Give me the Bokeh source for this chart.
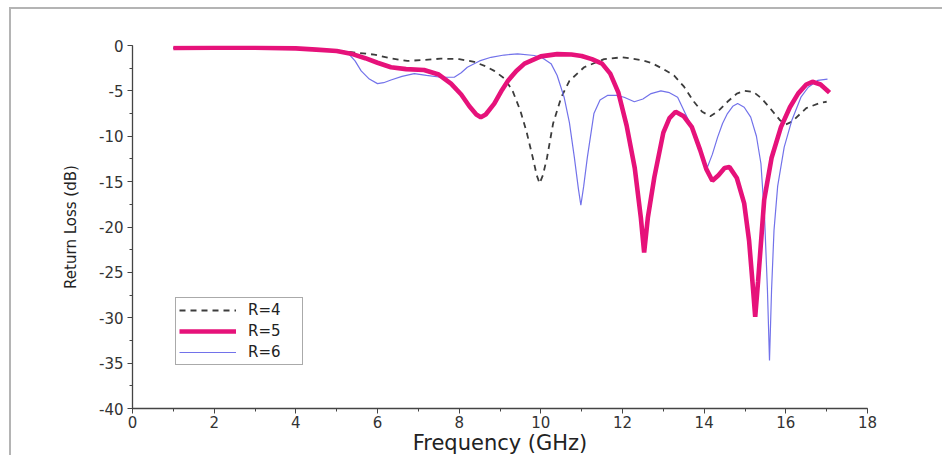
from bokeh.plotting import figure
from bokeh.models import Range1d, Legend, LegendItem, FixedTicker
from bokeh.embed import file_html
from bokeh.resources import INLINE

# Return loss versus frequency for three values of R
freq_r4 = [1.0, 2.0, 3.0, 4.0, 4.5, 5.0, 5.5, 5.92, 6.3, 6.73, 7.1, 7.55, 8.0, 8.37, 8.65,
           8.86, 9.1, 9.3, 9.5, 9.65, 9.8, 9.9, 9.97, 10.05, 10.15, 10.3, 10.5, 10.7,
           11.06, 11.55, 12.0, 12.45, 12.7, 13.0, 13.26, 13.5, 13.75, 13.95, 14.15,
           14.35, 14.57, 14.8, 14.98, 15.2, 15.4, 15.63, 15.85, 16.0, 16.15, 16.5,
           16.85, 17.0]
rl_r4 = [-0.28, -0.25, -0.25, -0.32, -0.4, -0.55, -0.8, -1.0, -1.4, -1.7, -1.6, -1.45,
         -1.5, -1.8, -2.3, -2.8, -3.6, -4.9, -7.2, -9.5, -12.3, -14.3, -15.2, -14.3,
         -12.4, -8.6, -5.7, -3.9, -2.4, -1.5, -1.3, -1.6, -1.9, -2.6, -3.3, -4.5, -6.2,
         -7.3, -7.8, -7.2, -6.2, -5.3, -5.0, -5.1, -5.8, -7.0, -8.2, -8.7, -8.4, -6.9,
         -6.3, -6.2]

freq_r5 = [1.0, 2.0, 3.0, 4.0, 4.5, 5.0, 5.35, 5.7, 6.0, 6.33, 6.7, 7.14, 7.5, 7.8, 8.05,
           8.25, 8.42, 8.53, 8.65, 8.86, 9.05, 9.2, 9.4, 9.6, 10.0, 10.4, 10.75, 11.0,
           11.25, 11.5, 11.7, 11.9, 12.1, 12.3, 12.45, 12.53, 12.62, 12.78, 13.0, 13.15,
           13.3, 13.5, 13.7, 13.9, 14.05, 14.2, 14.35, 14.5, 14.62, 14.8, 14.98, 15.1,
           15.2, 15.25, 15.32, 15.47, 15.65, 15.88, 16.1, 16.3, 16.5, 16.65, 16.85,
           17.0, 17.07]
rl_r5 = [-0.28, -0.25, -0.25, -0.32, -0.45, -0.6, -0.9, -1.4, -1.9, -2.4, -2.6, -2.7,
         -3.2, -4.2, -5.4, -6.7, -7.6, -7.9, -7.6, -6.4, -4.9, -3.85, -2.8, -2.0, -1.2,
         -0.95, -1.0, -1.15, -1.5, -2.0, -3.1, -5.2, -8.8, -13.5, -19.0, -22.8, -19.0,
         -14.5, -9.6, -8.0, -7.3, -7.8, -9.0, -11.5, -13.6, -14.9, -14.3, -13.5, -13.4,
         -14.6, -17.4, -21.5, -27.0, -29.9, -26.0, -17.0, -12.4, -9.0, -6.8, -5.3, -4.3,
         -4.0, -4.3, -4.9, -5.2]

freq_r6 = [1.0, 2.0, 3.0, 4.0, 4.5, 5.0, 5.27, 5.45, 5.6, 5.8, 6.0, 6.15, 6.33, 6.6, 6.9,
           7.2, 7.55, 7.88, 8.05, 8.2, 8.5, 8.78, 9.1, 9.43, 9.84, 10.05, 10.25, 10.4,
           10.57, 10.7, 10.82, 10.92, 10.98, 11.05, 11.14, 11.3, 11.45, 11.63, 11.85,
           12.04, 12.29, 12.5, 12.7, 12.94, 13.15, 13.35, 13.55, 13.7, 13.84, 13.95,
           14.08, 14.2, 14.33, 14.45, 14.57, 14.7, 14.82, 14.98, 15.14, 15.28, 15.39,
           15.48, 15.55, 15.6, 15.65, 15.71, 15.8, 15.96, 16.15, 16.37, 16.55, 16.78,
           17.02]
rl_r6 = [-0.28, -0.25, -0.25, -0.32, -0.4, -0.6, -0.8, -1.7, -2.8, -3.7, -4.2, -4.1,
         -3.8, -3.4, -3.1, -3.3, -3.5, -3.5, -3.0, -2.4, -1.7, -1.3, -1.05, -0.92, -1.1,
         -1.4, -2.0, -3.3, -5.7, -8.5, -12.3, -15.8, -17.6, -15.5, -12.3, -7.5, -6.0,
         -5.5, -5.5, -5.7, -6.2, -5.9, -5.3, -5.0, -5.2, -5.7, -7.6, -9.0, -10.5, -12.2,
         -13.4, -12.0, -10.1, -8.6, -7.5, -6.7, -6.4, -6.8, -7.9, -10.0, -13.0, -19.0,
         -27.0, -34.7, -27.0, -20.4, -15.5, -11.2, -8.2, -5.7, -4.6, -3.85, -3.7]

series_labels = ["R=4", "R=5", "R=6"]
x_ticks = list(range(0, 19, 2))
y_ticks = list(range(-40, 1, 5))

FONT = "DejaVu Sans"

p = figure(width=933, height=448, output_backend="svg", toolbar_location=None,
           x_range=Range1d(0, 18), y_range=Range1d(-40, 0),
           min_border_left=121, min_border_right=77, min_border_top=36,
           min_border_bottom=49)
# thin grey edge along the top and left of the figure
p.styles = {"margin-left": "9px", "margin-top": "7px",
            "border-left": "2px solid #b4b4b4", "border-top": "2px solid #b4b4b4"}
p.background_fill_color = "white"
p.border_fill_color = "white"
p.outline_line_color = None
p.xgrid.visible = False
p.ygrid.visible = False

l4 = p.line(freq_r4, rl_r4, line_color="#3c3c3c", line_width=1.8, line_dash="6 5")
l6 = p.line(freq_r6, rl_r6, line_color="#7272ea", line_width=1.2)
l5 = p.line(freq_r5, rl_r5, line_color="#e6127a", line_width=4.6)

for ax in (p.xaxis[0], p.yaxis[0]):
    ax.axis_line_color = "#444444"
    ax.axis_line_width = 1.3
    ax.major_tick_line_color = "#444444"
    ax.minor_tick_line_color = "#444444"
    ax.major_tick_in = 0
    ax.major_tick_out = 5
    ax.minor_tick_in = 0
    ax.minor_tick_out = 3
    ax.major_label_text_font = FONT
    ax.major_label_text_font_size = "15px"
    ax.major_label_text_color = "#333333"
    ax.axis_label_text_font = FONT
    ax.axis_label_text_font_style = "normal"
    ax.axis_label_text_color = "#222222"

p.xaxis.ticker = FixedTicker(ticks=x_ticks, minor_ticks=list(range(0, 19)))
p.yaxis.ticker = FixedTicker(ticks=y_ticks, minor_ticks=[v / 2 for v in range(-80, 1, 5)])
p.yaxis.major_label_overrides = {v: str(v) for v in y_ticks}
p.xaxis.axis_label = "Frequency (GHz)"
p.xaxis.axis_label_text_font_size = "21px"
p.xaxis.major_label_standoff = 2
p.xaxis.axis_label_standoff = 0
p.yaxis.axis_label = "Return Loss (dB)"
p.yaxis.axis_label_text_font_size = "15px"
p.yaxis.major_label_standoff = 4
p.yaxis.axis_label_standoff = 16

legend = Legend(items=[LegendItem(label=series_labels[0], renderers=[l4]),
                       LegendItem(label=series_labels[1], renderers=[l5]),
                       LegendItem(label=series_labels[2], renderers=[l6])],
                location=(43, 43))
legend.glyph_width = 57
legend.glyph_height = 18
legend.label_height = 18
legend.label_width = 51
legend.spacing = 3
legend.padding = 3
legend.margin = 0
legend.label_standoff = 12
legend.label_text_font = FONT
legend.label_text_font_size = "15px"
legend.label_text_color = "#222222"
legend.border_line_color = "#555555"
legend.border_line_width = 1
legend.background_fill_color = "white"
legend.background_fill_alpha = 1
p.add_layout(legend)

open("out.html", "w").write(file_html(p, INLINE))
